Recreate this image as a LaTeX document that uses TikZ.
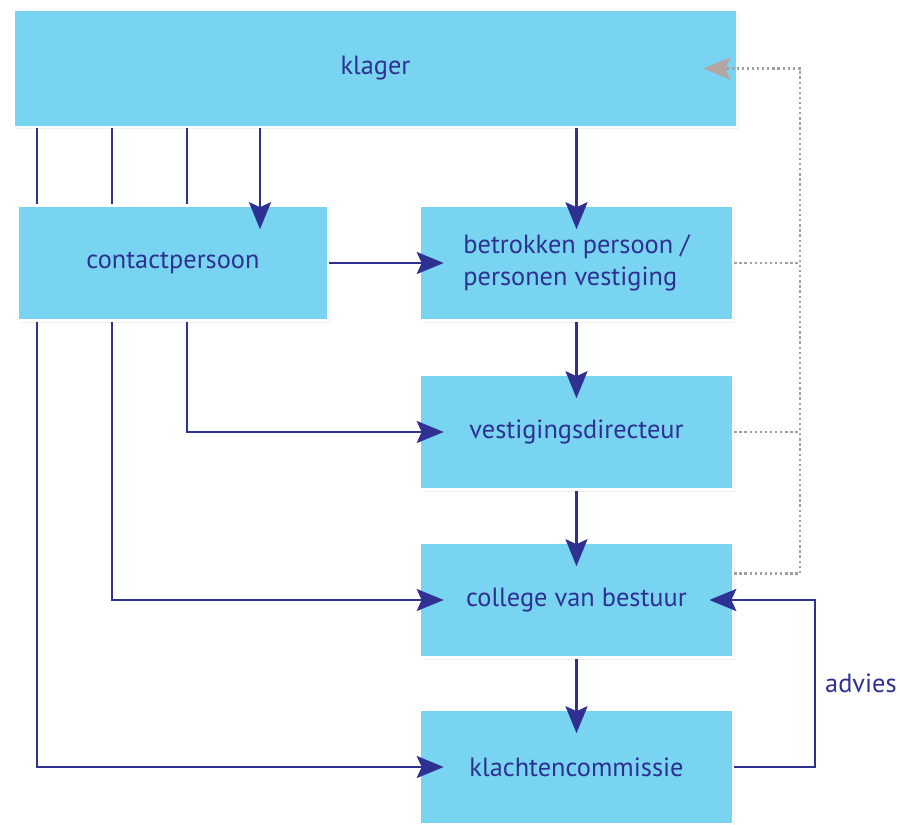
\documentclass[tikz,border=0pt]{standalone}
\usepackage{fontspec}
\setmainfont{PT Sans}
\usetikzlibrary{arrows.meta,shadows}
\definecolor{boxblue}{HTML}{78D4F0}
\definecolor{inkblue}{HTML}{2E3192}
\definecolor{dotgrey}{HTML}{A0A0A0}
\definecolor{tipgrey}{HTML}{B4A4A4}

\begin{document}
\begin{tikzpicture}[
  x=0.02cm,
  y=-0.02cm,
  font=\fontsize{15}{18.5}\selectfont,
  box/.style={fill=boxblue, draw=white, line width=1.5pt, text=inkblue, inner sep=0pt,
    minimum width=6.26cm, minimum height=2.3cm,
    drop shadow={opacity=0.12, shadow xshift=0.05cm, shadow yshift=-0.05cm}},
  link/.style={inkblue, line width=1.4pt},
  arr/.style={link, -{Stealth[length=0.54cm, width=0.44cm, inset=0.1cm]}, shorten >=-0.5cm},
  feedback/.style={dotgrey, line width=1.3pt, dash pattern=on 1.3pt off 1.6pt},
]
  \useasboundingbox (0,0) rectangle (900,825);

  % boxes
  \node[box, minimum width=14.46cm, minimum height=2.34cm] (klager) at (375.5,68.5) {\raisebox{-3pt}{klager}};
  \node[box, minimum width=6.2cm] (contact) at (173,263) {contactpersoon};
  \node[box, align=left] (betrokken) at (576.5,263) {betrokken persoon /\\personen vestiging};
  \node[box] (directeur) at (576.5,432) {vestigingsdirecteur};
  \node[box] (college) at (576.5,600) {college van bestuur};
  \node[box] (commissie) at (576.5,767) {klachtencommissie};

  % klager to contactpersoon
  \foreach \x in {37,112,187} {
    \draw[link] (klager.south -| \x,0) -- (contact.north -| \x,0);
  }
  \draw[arr] (klager.south -| 260,0) -- (contact.north -| 260,0);
  \draw[arr] (klager.south -| betrokken) -- (betrokken);

  % contactpersoon onwards
  \draw[arr] (contact) -- (betrokken);
  \draw[arr] (contact.south -| 187,0) |- (directeur);
  \draw[arr] (contact.south -| 112,0) |- (college);
  \draw[arr] (contact.south -| 37,0) |- (commissie);

  % chain
  \draw[arr] (betrokken) -- (directeur);
  \draw[arr] (directeur) -- (college);
  \draw[arr] (college) -- (commissie);

  % advies
  \coordinate (bend) at (815,683);
  \draw[arr] (commissie.east) -| (bend) |- (college.east);
  \node[text=inkblue, anchor=west] (advies) at (819,683) {advies};

  % dotted feedback
  \coordinate (back) at (800,68.5);
  \draw[feedback] (betrokken.east) -- (betrokken.east -| back);
  \draw[feedback] (directeur.east) -- (directeur.east -| back);
  \draw[feedback, -{Stealth[length=0.54cm, width=0.44cm, inset=0.1cm, tipgrey]}, shorten >=-0.7cm]
    ([yshift=0.53cm]college.east) -| (back) -- (klager.east);
\end{tikzpicture}
\end{document}
